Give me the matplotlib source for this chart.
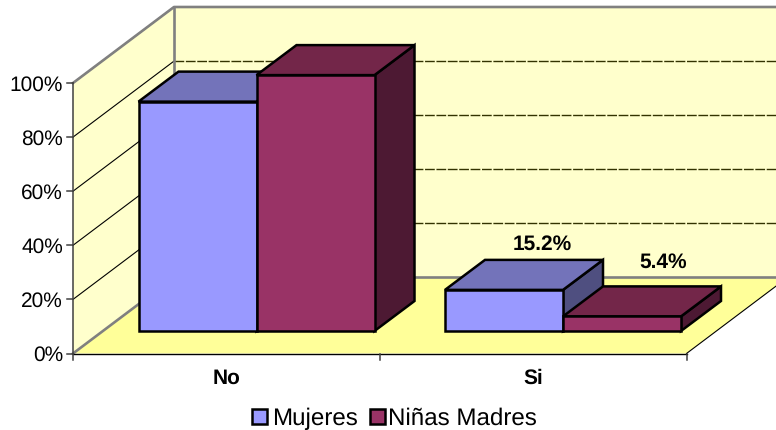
#!/usr/bin/env python
from matplotlib import pyplot as plt
from matplotlib.patches import Polygon, Rectangle

categories = ['No', 'Si']
series_names = ['Mujeres', 'Niñas Madres']
mujeres = [84.8, 15.2]
ninas = [94.6, 5.4]
value_ticks = [0, 20, 40, 60, 80, 100]
value_labels = ['0%', '20%', '40%', '60%', '80%', '100%']
shown_labels = {(1, 0): '15.2%', (1, 1): '5.4%'}
label_shift = {(1, 0): (18, -17), (1, 1): (21, -25)}

# colours per series: front, top, side
colors = [('#9999FF', '#7373BA', '#4F4F80'), ('#993366', '#732649', '#4D1933')]

# picture geometry, in pixels
x0, x1 = 73, 686.5
y0, y100 = 354.5, 84
dx, dy = 101, -76
bar_base = 332
bar_left = [138.5, 445]
bar_w = 118
bdx, bdy = 40, -30
GREY = '#808080'

plt.rcParams['font.family'] = ['Liberation Sans', 'DejaVu Sans']
plt.rcParams['text.hinting'] = 'none'
fig = plt.figure(figsize=(7.76, 4.31), dpi=100)
ax = fig.add_axes([0, 0, 1, 1])
ax.set_xlim(0, 776)
ax.set_ylim(431, 0)
ax.axis('off')


def val_y(v):
	return y0 - (y0 - y100) * v / 100.0


def line(xs, ys, color='k', lw=0.8, z=2, **kw):
	ax.plot(xs, ys, color=color, lw=lw, zorder=z, solid_capstyle='projecting', **kw)


# walls and floor
ax.add_patch(Polygon([(x0, y0), (x0 + dx, y0 + dy), (x0 + dx, y100 + dy), (x0, y100)], fc='#FFFFCC', ec='none', zorder=1))
ax.add_patch(Polygon([(x0 + dx, y0 + dy), (x1 + dx, y0 + dy), (x1 + dx, y100 + dy), (x0 + dx, y100 + dy)], fc='#FFFFCC', ec='none', zorder=1))
ax.add_patch(Polygon([(x0, y0), (x1, y0), (x1 + dx, y0 + dy), (x0 + dx, y0 + dy)], fc='#FFFF99', ec='none', zorder=1))

# gridlines
for v in value_ticks[1:]:
	y = val_y(v)
	line([x0, x0 + dx], [y, y + dy], lw=0.8)
	if v < 100:
		line([x0 + dx, x1 + dx], [y + dy, y + dy], color='#333300', lw=1.0, ls=(0, (7, 1.2)))

# wall edges
line([x0, x0 + dx, x1 + dx], [y100, y100 + dy, y100 + dy], color=GREY, lw=1.9, z=3)
line([x0 + dx, x0 + dx], [y100 + dy, y0 + dy], color=GREY, lw=1.9, z=3)
line([x0, x0 + dx, x1 + dx], [y0, y0 + dy, y0 + dy], color=GREY, lw=1.9, z=3)

# axes
line([x0, x0], [y100, y0], color='#404040', lw=1.1, z=3)
line([x0, x1], [y0, y0], lw=1.0, z=3)
line([x1, x1 + dx], [y0, y0 + dy], lw=0.8, z=3)
for v, lab in zip(value_ticks, value_labels):
	y = val_y(v)
	line([x0 - 6, x0], [y, y], color='#404040', lw=1.1, z=3)
	ax.text(63, y + 1, lab, ha='right', va='center', fontsize=15, color='k')
for x in [x0, (x0 + x1) / 2.0, x1]:
	line([x, x], [y0, y0 + 6], color='#404040', lw=1.1, z=3)
for i, cat in enumerate(categories):
	ax.text(x0 + (x1 - x0) * (i + 0.5) / 2, 378.5, cat, ha='center', va='center', fontsize=15, fontweight='bold')

# bars, drawn back to front
z = 5
for c, left in enumerate(bar_left):
	for s, values in enumerate([mujeres, ninas]):
		v = values[c]
		xl = left + s * bar_w
		xr = xl + bar_w
		top = bar_base - (y0 - y100) * v / 100.0
		front, upper, side = colors[s]
		kw = dict(ec='k', lw=1.8, joinstyle='miter', zorder=z)
		ax.add_patch(Polygon([(xr, bar_base), (xr + bdx, bar_base + bdy), (xr + bdx, top + bdy), (xr, top)], fc=side, **kw))
		ax.add_patch(Polygon([(xl, top), (xl + bdx, top + bdy), (xr + bdx, top + bdy), (xr, top)], fc=upper, **kw))
		ax.add_patch(Polygon([(xl, bar_base), (xr, bar_base), (xr, top), (xl, top)], fc=front, **kw))
		z += 1
		if (c, s) in shown_labels:
			sx, sy = label_shift[(c, s)]
			ax.text(xl + bar_w / 2.0 + bdx / 2.0 + sx, top + bdy + sy, shown_labels[(c, s)], ha='center', va='center',
				fontsize=15, fontweight='bold', zorder=20)

# legend
for name, (front, _, _), xs, xt in zip(series_names, colors, [252, 370], [272, 388]):
	ax.add_patch(Rectangle((xs, 410), 15, 15, fc=front, ec='k', lw=1.8, zorder=5))
	ax.text(xt, 419, name, ha='left', va='center', fontsize=17.4, color='k')

plt.savefig('out.png', dpi=100)
